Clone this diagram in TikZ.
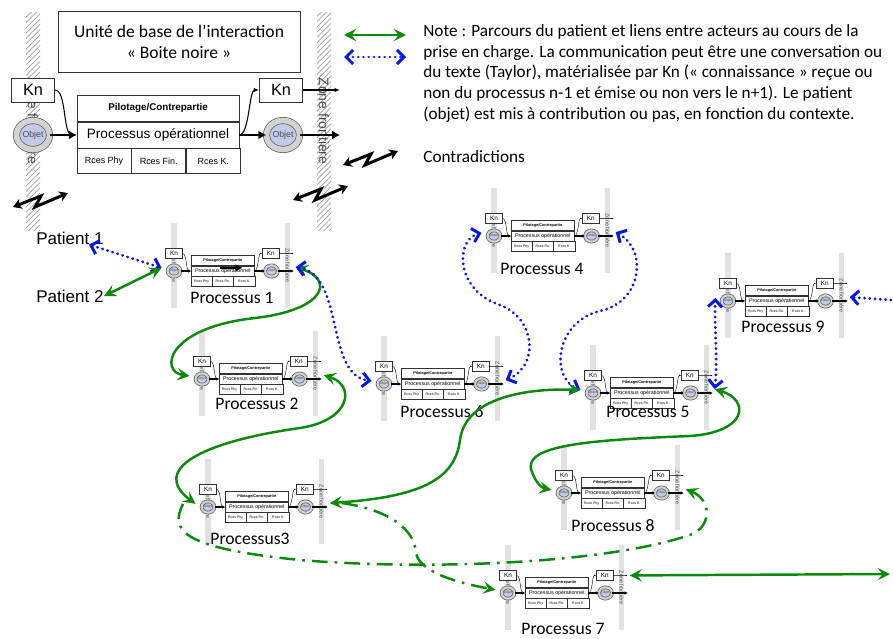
\documentclass[tikz,border=0pt]{standalone}
\usepackage{fontspec}
\setmainfont{Carlito}
\newfontfamily\arialf{Liberation Sans}
\usetikzlibrary{arrows.meta, positioning, patterns, shapes.geometric}
\definecolor{lkGreen}{HTML}{0A8A0A}
\definecolor{lkBlue}{HTML}{0A14F0}
\definecolor{objBlue}{HTML}{C3CBE8}
\definecolor{barGray}{HTML}{E2E2E2}
\tikzset{
  unitbox/.style={rectangle, draw=black!80, fill=white, inner sep=0pt, align=center},
  knbox/.style={unitbox, minimum width=0.86cm, minimum height=0.48cm,
    font=\arialf\fontsize{9.3}{10}\selectfont},
  pilrow/.style={unitbox, minimum width=3.24cm, minimum height=0.52cm,
    font=\arialf\bfseries\fontsize{5.6}{6}\selectfont},
  procrow/.style={unitbox, minimum width=3.24cm, minimum height=0.52cm,
    font=\arialf\fontsize{7.75}{8}\selectfont},
  rcescell/.style={unitbox, minimum width=1.08cm, minimum height=0.5cm,
    font=\arialf\fontsize{5.1}{6}\selectfont},
  objnode/.style={ellipse, draw=black!65, double=gray!35, double distance=\us*3.2pt,
    fill=objBlue, minimum width=0.66cm, minimum height=0.58cm, inner sep=0pt,
    font=\arialf\fontsize{5}{6}\selectfont, text=black!70},
  zonetext/.style={rotate=-90, font=\arialf\fontsize{7.9}{8}\selectfont, text=black!70, inner sep=0pt},
  hatchbar/.style={pattern=north east lines, pattern color=gray!75},
  plainbar/.style={fill=barGray},
  fatarrow/.style={line width=\us*1.7pt, -{Latex[length=0pt 2.6, width=0pt 3]}},
  thinarrow/.style={line width=\us*0.6pt, -{Latex[length=0pt 5, width=0pt 4]}},
  titlebox/.style={rectangle, draw=black!80, minimum width=4.84cm, minimum height=1.22cm,
    align=center, font=\fontsize{10}{12}\selectfont},
  notetext/.style={align=left, inner sep=0pt, font=\fontsize{9.8}{11.8}\selectfont},
  proclabel/.style={inner sep=0pt, font=\fontsize{10}{12}\selectfont},
  patientlabel/.style={inner sep=0pt, font=\arialf\fontsize{9.7}{11}\selectfont},
  greenlink/.style={{Stealth[length=7pt, width=7pt, inset=2.8pt]}-{Stealth[length=7pt, width=7pt, inset=2.8pt]},
    lkGreen, line width=1.4pt},
  bluelink/.style={{Straight Barb[length=4pt, width=8pt]}-{Straight Barb[length=4pt, width=8pt]},
    lkBlue, line width=1.7pt, line cap=round, dash pattern=on 0.1pt off 2.9pt},
  dashlink/.style={-{Stealth[length=7pt, width=7pt, inset=2.8pt]}, lkGreen, line width=1.4pt,
    dash pattern=on 9pt off 4pt on 1.5pt off 4pt},
  contrarrow/.style={{Stealth[length=5pt, width=6pt]}-{Stealth[length=5pt, width=6pt]},
    line width=1.7pt, line join=miter}
}

\newcommand{\procunit}[5]{%
  \def\us{#4}
  \begin{scope}[shift={(#2,#3)}, scale=#4, transform shape]
    \path[#5] (-7,-123) rectangle (7,95);
    \path[#5] (284,-123) rectangle (298,95);
    \node[zonetext] (#1-zl) at (0,-14) {Zone frontière};
    \node[zonetext] (#1-zr) at (291,-14) {Zone frontière};
    \node[knbox] (#1-kl) at (0,-45) {Kn};
    \node[knbox] (#1-kr) at (248,-45) {Kn};
    \node[procrow] (#1-proc) at (125,0) {Processus opérationnel};
    \node[pilrow, above=0pt of #1-proc] (#1-pil) {Pilotage/Contrepartie};
    \node[rcescell, below right=0pt of #1-proc.south west] (#1-r1) {Rces Phy};
    \node[rcescell, right=0pt of #1-r1] (#1-r2) {Rces Fin.};
    \node[rcescell, right=0pt of #1-r2] (#1-r3) {Rces K.};
    \node[objnode] (#1-oi) at (0,0) {Objet};
    \node[objnode] (#1-oo) at (250,0) {Objet};
    \draw[fatarrow] (#1-oi.east) -- (#1-proc.west);
    \draw[fatarrow] (#1-proc.east) -- (#1-oo.west);
    \draw[fatarrow] (#1-oo.east) -- (307,0);
    \draw[thinarrow] (#1-kr.east) -- (307,-45);
    \draw[thinarrow] (#1-kl.east) .. controls +(12,0) and +(-14,0) .. (#1-proc.west);
    \draw[thinarrow] (#1-proc.east) .. controls +(10,0) and +(-10,0) .. (#1-kr.west);
    \coordinate (#1-in) at (-32,-8);
    \coordinate (#1-out) at (312,-10);
    \coordinate (#1-knout) at (312,-45);
  \end{scope}}

\newcommand{\contrasym}[2]{%
  \draw[contrarrow] (#1,#2) -- ++(28,-11) -- ++(-6,11) -- ++(33,-14);}

\begin{document}
\begin{tikzpicture}[x=0.02cm, y=-0.02cm]
  \useasboundingbox (0,0) rectangle (893,639);

  % unite de base
  \procunit{base}{33}{135}{1}{hatchbar}
  \node[titlebox] (title) at (179,42) {Unité de base de l’interaction\\« Boite noire »};
  \contrasym{13}{207}
  \contrasym{293}{200}

  % legende
  \coordinate (lgA) at (344,35);
  \coordinate (lgB) at (406,35);
  \coordinate (lgC) at (344,57);
  \coordinate (lgD) at (406,57);
  \draw[greenlink] (lgA) -- (lgB);
  \draw[bluelink] (lgC) -- (lgD);
  \node[notetext, anchor=north west] (note) at (423,24) {Note : Parcours du patient et liens entre acteurs au cours de la\\
    prise en charge. La communication peut être une conversation ou\\
    du texte (Taylor), matérialisée par Kn (« connaissance » reçue ou\\
    non du processus n-1 et émise ou non vers le n+1). Le patient\\
    (objet) est mis à contribution ou pas, en fonction du contexte.};
  \contrasym{343}{165}
  \node[notetext, anchor=west] (contra) at (423,157) {Contradictions};

  % processus
  \procunit{p1}{174}{271}{0.39}{plainbar}
  \procunit{p2}{202}{379}{0.39}{plainbar}
  \procunit{p3}{208}{507}{0.39}{plainbar}
  \procunit{p4}{494}{236}{0.39}{plainbar}
  \procunit{p5}{593}{393}{0.39}{plainbar}
  \procunit{p6}{384}{384}{0.39}{plainbar}
  \procunit{p7}{508}{593}{0.39}{plainbar}
  \procunit{p8}{564}{493}{0.39}{plainbar}
  \procunit{p9}{728}{301}{0.39}{plainbar}
  \draw[line width=1.2pt, -{Latex[length=4pt, width=4pt]}] ([xshift=-0.06cm, yshift=-0.04cm]p1-pil.south) -- ([xshift=0.4cm, yshift=-0.04cm]p1-pil.south);

  \node[proclabel] (lab1) at (232,298) {Processus 1};
  \node[proclabel] (lab2) at (257,404) {Processus 2};
  \node[proclabel] (lab3) at (250,539) {Processus3};
  \node[proclabel] (lab4) at (542,269) {Processus 4};
  \node[proclabel] (lab5) at (648,412) {Processus 5};
  \node[proclabel] (lab6) at (442,412) {Processus 6};
  \node[proclabel] (lab7) at (563,629) {Processus 7};
  \node[proclabel] (lab8) at (613,526) {Processus 8};
  \node[proclabel] (lab9) at (783,327) {Processus 9};

  \node[patientlabel] (pat1) at (70,238) {Patient 1};
  \node[patientlabel] (pat2) at (70,296) {Patient 2};
  \coordinate (edge9) at (905,301);
  \coordinate (edge7) at (890,574);

  % liens
  \draw[bluelink] ([xshift=-0.3cm]pat1.south east) -- (p1-in);
  \draw[greenlink] (pat2.east) -- (p1-in);
  \draw[greenlink] (p1-out) .. controls (335,280) and (325,310) .. (255,318)
    .. controls (165,328) and (160,372) .. (p2-in);
  \draw[bluelink] (p1-out) .. controls (345,275) and (325,375) .. (p6-in);
  \draw[bluelink] (p6-out) .. controls (540,365) and (535,318) .. (500,305)
    .. controls (455,290) and (455,240) .. (p4-in);
  \draw[bluelink] (p4-out) .. controls (648,250) and (642,302) .. (600,311)
    .. controls (555,322) and (550,378) .. (p5-in);
  \draw[greenlink] (p3-out) .. controls (420,497) and (455,480) .. (460,440)
    .. controls (465,400) and (520,388) .. (p5-in);
  \draw[greenlink] (p2-out) .. controls (355,385) and (352,420) .. (300,428)
    .. controls (200,442) and (150,470) .. (p3-in);
  \draw[greenlink] (p5-out) .. controls (750,400) and (748,432) .. (690,436)
    .. controls (590,440) and (520,445) .. (532,472)
    .. controls (536,483) and (542,488) .. (p8-in);
  \draw[bluelink] (p5-out) .. controls (718,360) and (714,325) .. (p9-in);
  \draw[bluelink] (edge9) -- (p9-out);
  \draw[greenlink] (p7-knout) -- (edge7);
  \draw[dashlink] ([xshift=0.25cm]p3-out) .. controls (390,510) and (415,530) .. (416,553)
    .. controls (420,575) and (470,585) .. (p7-in);
  \draw[dashlink] ([xshift=-0.25cm]p3-in) .. controls (170,530) and (180,548) .. (300,560)
    .. controls (420,570) and (600,565) .. (690,535)
    .. controls (712,527) and (712,500) .. (p8-out);
\end{tikzpicture}
\end{document}
